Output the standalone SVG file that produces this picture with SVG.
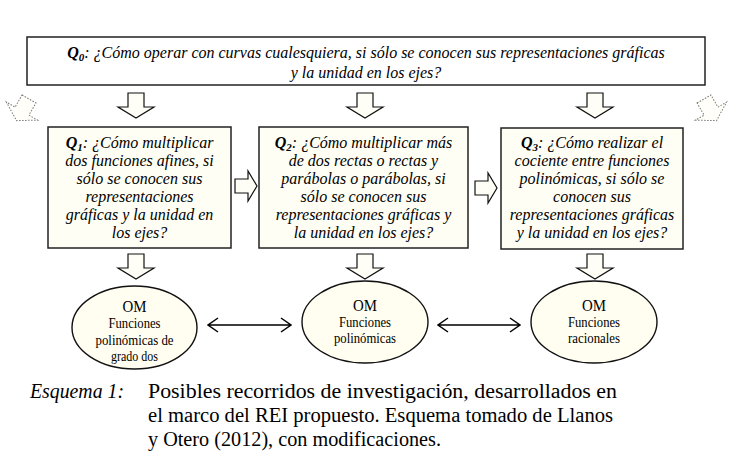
<svg xmlns="http://www.w3.org/2000/svg" width="731" height="467" viewBox="0 0 731 467">
<defs>
<style>
.box{fill:#FFFEF4;stroke:#222;stroke-width:1.5}
.q0{fill:#FFFFFF;stroke:#222;stroke-width:1.5}
.arr{fill:#FFFEF6;stroke:#111;stroke-width:1.2;stroke-linejoin:miter}
.dot{fill:#FFFEF8;stroke:#777;stroke-width:1;stroke-dasharray:1.5 1.5}
.ell{fill:#FFFEF0;stroke:#111;stroke-width:1.4}
.qt{font-family:"Liberation Serif","Times New Roman",serif;font-style:italic;font-size:16px;fill:#000;text-anchor:middle}
.qb{font-weight:bold}
.et{font-family:"Liberation Serif","Times New Roman",serif;font-size:15px;fill:#000;text-anchor:middle}
.om{font-size:17px}
.cap{font-family:"Liberation Serif","Times New Roman",serif;font-size:20px;fill:#000}
.dbl{fill:none;stroke:#000;stroke-width:1.5}
</style>
<path id="down" d="M-8,0 h16 v14 h10 l-18,11 l-18,-11 h10 z"/>
<path id="right" d="M0,-7 h13 v-8 l9,15 l-9,15 v-8 h-13 z"/>
</defs>
<rect width="731" height="467" fill="#FFFFFF"/>

<g id="q0">
<rect class="q0" x="27" y="37" width="678" height="48"/>
<text class="qt" x="366" y="58"><tspan class="qb">Q<tspan font-size="11" dy="3">0</tspan></tspan><tspan dy="-3">: ¿Cómo operar con curvas cualesquiera, si sólo se conocen sus representaciones gráficas</tspan></text>
<text class="qt" x="366" y="78">y la unidad en los ejes?</text>
</g>

<g id="q1">
<rect class="box" x="48" y="127" width="183" height="121"/>
<text class="qt" x="139.5" y="148"><tspan class="qb">Q<tspan font-size="11" dy="3">1</tspan></tspan><tspan dy="-3">: ¿Cómo multiplicar</tspan></text>
<text class="qt" x="139.5" y="166">dos funciones afines, si</text>
<text class="qt" x="139.5" y="184">sólo se conocen sus</text>
<text class="qt" x="139.5" y="202">representaciones</text>
<text class="qt" x="139.5" y="220">gráficas y la unidad en</text>
<text class="qt" x="139.5" y="238">los ejes?</text>
</g>

<g id="q2">
<rect class="box" x="259" y="127" width="209" height="121"/>
<text class="qt" x="363.5" y="148"><tspan class="qb">Q<tspan font-size="11" dy="3">2</tspan></tspan><tspan dy="-3">: ¿Cómo multiplicar más</tspan></text>
<text class="qt" x="363.5" y="166">de dos rectas o rectas y</text>
<text class="qt" x="363.5" y="184">parábolas o parábolas, si</text>
<text class="qt" x="363.5" y="202">sólo se conocen sus</text>
<text class="qt" x="363.5" y="220">representaciones gráficas y</text>
<text class="qt" x="363.5" y="238">la unidad en los ejes?</text>
</g>

<g id="q3">
<rect class="box" x="501" y="128" width="182" height="121"/>
<text class="qt" x="592" y="148"><tspan class="qb">Q<tspan font-size="11" dy="3">3</tspan></tspan><tspan dy="-3">: ¿Cómo realizar el</tspan></text>
<text class="qt" x="592" y="166">cociente entre funciones</text>
<text class="qt" x="592" y="184">polinómicas, si sólo se</text>
<text class="qt" x="592" y="202">conocen sus</text>
<text class="qt" x="592" y="220">representaciones gráficas</text>
<text class="qt" x="592" y="238">y la unidad en los ejes?</text>
</g>

<g id="om1">
<ellipse class="ell" cx="134.5" cy="327.5" rx="62.5" ry="41.5"/>
<text class="et om" x="134.5" y="312" textLength="24" lengthAdjust="spacingAndGlyphs">OM</text>
<text class="et" x="134.5" y="328" textLength="52" lengthAdjust="spacingAndGlyphs">Funciones</text>
<text class="et" x="134.5" y="345" textLength="78" lengthAdjust="spacingAndGlyphs">polinómicas de</text>
<text class="et" x="134.5" y="361" textLength="47" lengthAdjust="spacingAndGlyphs">grado dos</text>
</g>

<g id="om2">
<ellipse class="ell" cx="365" cy="322" rx="63" ry="41"/>
<text class="et om" x="365" y="311" textLength="24" lengthAdjust="spacingAndGlyphs">OM</text>
<text class="et" x="365" y="327" textLength="52" lengthAdjust="spacingAndGlyphs">Funciones</text>
<text class="et" x="365" y="343" textLength="62" lengthAdjust="spacingAndGlyphs">polinómicas</text>
</g>

<g id="om3">
<ellipse class="ell" cx="594" cy="322" rx="63" ry="41"/>
<text class="et om" x="594" y="311" textLength="24" lengthAdjust="spacingAndGlyphs">OM</text>
<text class="et" x="594" y="327" textLength="52" lengthAdjust="spacingAndGlyphs">Funciones</text>
<text class="et" x="594" y="343" textLength="52" lengthAdjust="spacingAndGlyphs">racionales</text>
</g>

<g id="connectors">
<use href="#down" class="arr" x="136" y="93"/>
<use href="#down" class="arr" x="365" y="93"/>
<use href="#down" class="arr" x="595" y="93"/>
<use href="#right" class="arr" x="235" y="186"/>
<use href="#right" class="arr" x="475" y="188"/>
<use href="#down" class="arr" x="136" y="254"/>
<use href="#down" class="arr" x="365" y="254"/>
<use href="#down" class="arr" x="595" y="254"/>
<path class="dot" transform="translate(29,99) rotate(30)" d="M-8,0 h16 v14 h10 l-18,11 l-18,-11 h10 z"/>
<path class="dot" transform="translate(704,99) rotate(-30)" d="M-8,0 h16 v14 h10 l-18,11 l-18,-11 h10 z"/>
<path class="dbl" d="M208,325 H291 M218,318 L208,325 L218,332 M281,318 L291,325 L281,332"/>
<path class="dbl" d="M438,325 H520 M448,318 L438,325 L448,332 M510,318 L520,325 L510,332"/>
</g>

<g id="caption">
<text class="cap" x="30" y="398" font-style="italic" textLength="94" lengthAdjust="spacingAndGlyphs">Esquema 1:</text>
<text class="cap" x="148" y="398" textLength="469" lengthAdjust="spacingAndGlyphs">Posibles recorridos de investigación, desarrollados en</text>
<text class="cap" x="148" y="422" textLength="465" lengthAdjust="spacingAndGlyphs">el marco del REI propuesto. Esquema tomado de Llanos</text>
<text class="cap" x="148" y="446" textLength="293" lengthAdjust="spacingAndGlyphs">y Otero (2012), con modificaciones.</text>
</g>
</svg>
